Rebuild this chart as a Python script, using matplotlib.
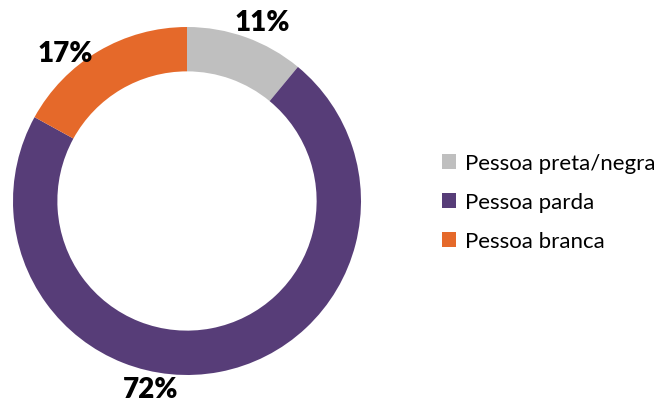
import matplotlib

matplotlib.use("Agg")
import matplotlib.pyplot as plt

labels = ["Pessoa preta/negra", "Pessoa parda", "Pessoa branca"]
shares = [11, 72, 17]
colors = ["#BFBFBF", "#573D78", "#E5692A"]
# label positions in pie coordinates (outer radius = 1)
label_pos = [(0.43, 1.03), (-0.21, -1.08), (-0.70, 0.85)]

plt.rcParams["font.family"] = ["Lato", "DejaVu Sans"]

fig = plt.figure(figsize=(6.65, 4.06), dpi=100)
ax = fig.add_axes([13 / 665, 30 / 406, 348 / 665, 348 / 406])
wedges, _ = ax.pie(
    shares,
    colors=colors,
    startangle=90,
    counterclock=False,
    radius=1,
    wedgeprops=dict(width=0.255, edgecolor="none"),
)
for (x, y), v in zip(label_pos, shares):
    ax.text(x, y, f"{v}%", ha="center", va="center", fontsize=20, fontweight="heavy")
ax.set_xlim(-1, 1)
ax.set_ylim(-1, 1)
ax.set_aspect("equal")
ax.axis("off")

fig.legend(
    wedges,
    labels,
    loc="center left",
    bbox_to_anchor=(422 / 665, 0.5),
    frameon=False,
    fontsize=16,
    handlelength=0.65,
    handleheight=0.65,
    handletextpad=0.4,
    labelspacing=0.85,
)

fig.savefig("out.png", dpi=100)
